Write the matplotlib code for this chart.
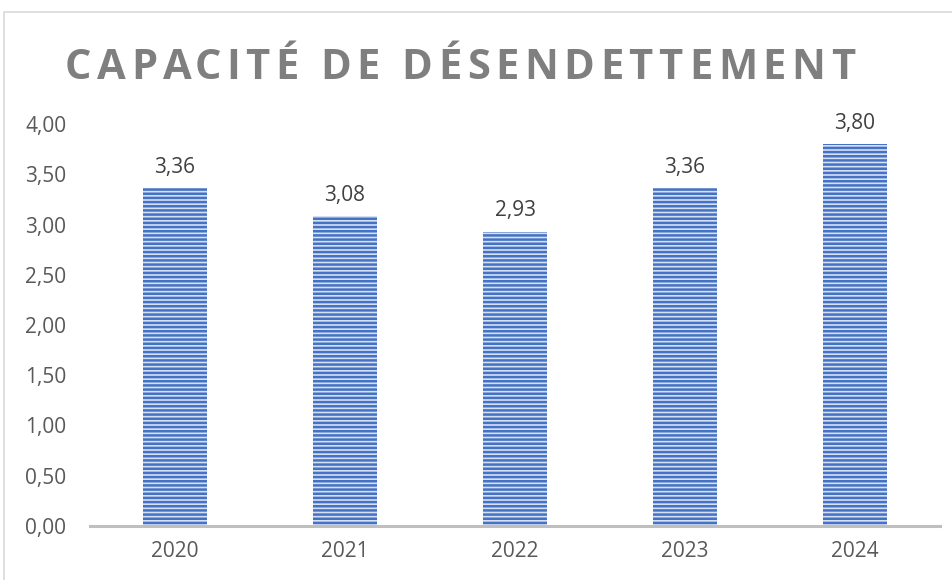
import matplotlib.pyplot as plt
from matplotlib.patches import Rectangle

years = ["2020", "2021", "2022", "2023", "2024"]
values = [3.36, 3.08, 2.93, 3.36, 3.80]
yticks = [0, 0.5, 1, 1.5, 2, 2.5, 3, 3.5, 4]
title = "CAPACITÉ DE DÉSENDETTEMENT"

plt.rcParams['font.family'] = ['Open Sans', 'DejaVu Sans']
plt.rcParams['hatch.linewidth'] = 1.8

fig = plt.figure(figsize=(9.53, 5.8), dpi=100)
# chart frame
fig.patches.append(Rectangle((4 / 953, -0.1), 1.1, (580 - 12) / 580 + 0.1,
                             transform=fig.transFigure, fill=False,
                             edgecolor='#D9D9D9', linewidth=1.2))

ax = fig.add_axes([90 / 953, (580 - 526) / 580, 850 / 953, 402 / 580])
x = range(len(years))
ax.bar(x, values, width=0.38, color='#D6E0F3', edgecolor='#4472C4', linewidth=0, hatch='----')
for i, v in zip(x, values):
    ax.text(i, v + 0.1, f"{v:.2f}".replace('.', ','), ha='center', va='bottom',
            fontsize=15, color='#404040')

ax.set_xlim(-0.5, len(years) - 0.5)
ax.set_ylim(0, 4)
ax.set_yticks(yticks)
ax.set_yticklabels([f"{t:.2f}".replace('.', ',') for t in yticks])
ax.set_xticks(list(x))
ax.set_xticklabels(years)
ax.tick_params(axis='both', length=0, labelsize=15, colors='#595959')
ax.tick_params(axis='y', pad=17)
ax.tick_params(axis='x', pad=11)
for s in ['top', 'right', 'left']:
    ax.spines[s].set_visible(False)
ax.spines['bottom'].set_color('#BFBFBF')
ax.spines['bottom'].set_linewidth(2.2)

# title with letter spacing: place each character using prefix widths
renderer = fig.canvas.get_renderer()
tprops = dict(fontsize=30, fontweight='bold', color='#7F7F7F', va='baseline', ha='left')
def text_width(s):
    t = fig.text(0, 0, s, **tprops)
    w = t.get_window_extent(renderer).width
    t.remove()
    return w
spacing = 5.5
total = text_width(title) + spacing * (len(title) - 1)
x0 = 460 - total / 2
for i, ch in enumerate(title):
    px = x0 + (text_width(title[:i]) if i else 0) + spacing * i
    fig.text(px / 953, 1 - 79 / 580, ch, **tprops)

fig.savefig('out.png', dpi=100)
